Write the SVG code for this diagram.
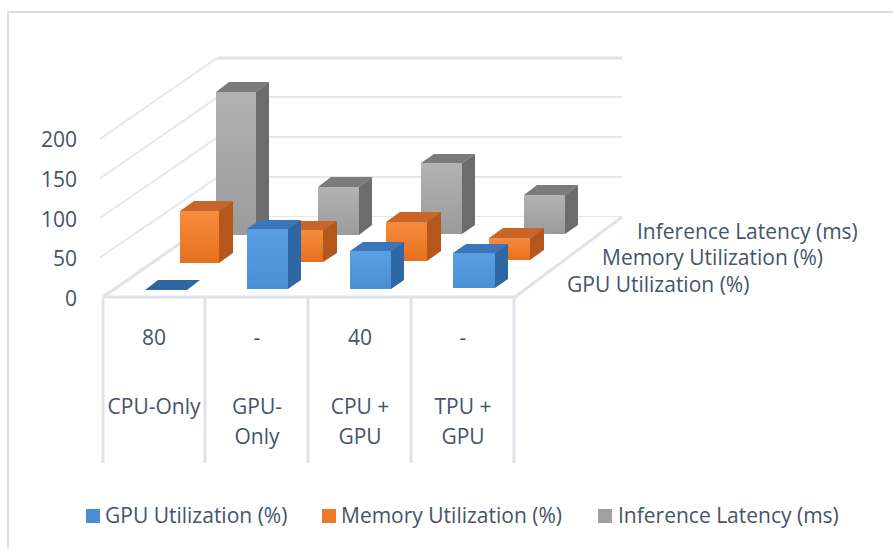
<svg xmlns="http://www.w3.org/2000/svg" width="893" height="549" viewBox="0 0 893 549">
  <style>
    text { font-family: "Open Sans", "Liberation Sans", sans-serif; font-size: 21px; fill: #44546a; }
    .grid { fill: none; stroke: #e4e7eb; stroke-width: 2; }
    .edge { fill: none; stroke: #dfe3e9; stroke-width: 3; }
    .frame { fill: none; stroke: #d9dee5; stroke-width: 2; }
    .mid { text-anchor: middle; }
    .end { text-anchor: end; }
    .bTop { fill: #3a76b8; } .bSide { fill: #2e67a3; } .bFront { fill: url(#gBlue); }
    .oTop { fill: #c8652a; } .oSide { fill: #b5561c; } .oFront { fill: url(#gOrange); }
    .gTop { fill: #7b7b7b; } .gSide { fill: #6c6c6c; } .gFront { fill: url(#gGray); }
  </style>
  <defs>
    <linearGradient id="gBlue" x1="0" y1="0" x2="0" y2="1">
      <stop offset="0" stop-color="#5a9fe2"/>
      <stop offset="1" stop-color="#4a8ed4"/>
    </linearGradient>
    <linearGradient id="gOrange" x1="0" y1="0" x2="0" y2="1">
      <stop offset="0" stop-color="#f68c3e"/>
      <stop offset="1" stop-color="#e6701d"/>
    </linearGradient>
    <linearGradient id="gGray" x1="0" y1="0" x2="0" y2="1">
      <stop offset="0" stop-color="#b2b2b2"/>
      <stop offset="1" stop-color="#9b9b9b"/>
    </linearGradient>
  </defs>

  <rect width="893" height="549" fill="#ffffff"/>
  <!-- chart area border -->
  <path class="frame" d="M8,549 V12 H893"/>

  <!-- walls and floor -->
  <g id="walls">
    <path class="grid" d="M100,257.5 L218,177 H622"/>
    <path class="grid" d="M100,218 L218,137 H622"/>
    <path class="grid" d="M100,178.5 L218,97 H622"/>
    <path class="grid" d="M100,139 L214,60 Q216,58.5 219,58.5"/>
    <path class="edge" d="M218,58 H622"/>
    <path class="grid" d="M218,217 H622"/>
  </g>
  <g id="floor">
    <polygon points="103,297 515,297 622,217 218,217" fill="#ffffff"/>
    <path class="edge" d="M103,297 L218,217"/>
    <path class="edge" d="M103,297 H515 L622,217"/>
  </g>

  <!-- value axis -->
  <g id="value-axis">
    <text class="end" x="77" y="147">200</text>
    <text class="end" x="77" y="187">150</text>
    <text class="end" x="77" y="227">100</text>
    <text class="end" x="77" y="266">50</text>
    <text class="end" x="77" y="306">0</text>
  </g>

  <!-- series axis -->
  <g id="series-axis">
    <text x="637" y="239">Inference Latency (ms)</text>
    <text x="602" y="265">Memory Utilization (%)</text>
    <text x="567" y="292">GPU Utilization (%)</text>
  </g>

  <!-- back row: Inference Latency (ms) -->
  <g id="series-latency">
    <g id="lat-cpu-only">
      <rect class="gFront" x="216" y="92" width="40" height="143"/>
      <polygon class="gTop" points="216,92 256,92 269,82 229,82"/>
      <polygon class="gSide" points="256,92 269,82 269,225 256,235"/>
    </g>
    <g id="lat-gpu-only">
      <rect class="gFront" x="318" y="187" width="41" height="48"/>
      <polygon class="gTop" points="318,187 359,187 372,177 331,177"/>
      <polygon class="gSide" points="359,187 372,177 372,225 359,235"/>
    </g>
    <g id="lat-cpu-gpu">
      <rect class="gFront" x="421" y="163" width="41" height="71"/>
      <polygon class="gTop" points="421,163 462,163 475,154 434,154"/>
      <polygon class="gSide" points="462,163 475,154 475,225 462,234"/>
    </g>
    <g id="lat-tpu-gpu">
      <rect class="gFront" x="524" y="195" width="41" height="39"/>
      <polygon class="gTop" points="524,195 565,195 578,185 537,185"/>
      <polygon class="gSide" points="565,195 578,185 578,225 565,234"/>
    </g>
  </g>

  <!-- middle row: Memory Utilization (%) -->
  <g id="series-memory">
    <g id="mem-cpu-only">
      <rect class="oFront" x="180" y="211" width="39" height="52"/>
      <polygon class="oTop" points="180,211 219,211 233,201 194,201"/>
      <polygon class="oSide" points="219,211 233,201 233,253 219,263"/>
    </g>
    <g id="mem-gpu-only">
      <rect class="oFront" x="283" y="230" width="40" height="32"/>
      <polygon class="oTop" points="283,230 323,230 337,221 297,221"/>
      <polygon class="oSide" points="323,230 337,221 337,253 323,262"/>
    </g>
    <g id="mem-cpu-gpu">
      <rect class="oFront" x="386" y="222" width="41" height="39"/>
      <polygon class="oTop" points="386,222 427,222 441,212 400,212"/>
      <polygon class="oSide" points="427,222 441,212 441,251 427,261"/>
    </g>
    <g id="mem-tpu-gpu">
      <rect class="oFront" x="489" y="238" width="41" height="22"/>
      <polygon class="oTop" points="489,238 530,238 544,228 503,228"/>
      <polygon class="oSide" points="530,238 544,228 544,250 530,260"/>
    </g>
  </g>

  <!-- front row: GPU Utilization (%) -->
  <g id="series-gpu">
    <g id="gpu-cpu-only">
      <polygon class="bSide" points="145,290 187,290 200,280 158,280"/>
    </g>
    <g id="gpu-gpu-only">
      <rect class="bFront" x="247" y="229" width="41" height="60"/>
      <polygon class="bTop" points="247,229 288,229 301,220 260,220"/>
      <polygon class="bSide" points="288,229 301,220 301,280 288,289"/>
    </g>
    <g id="gpu-cpu-gpu">
      <rect class="bFront" x="350" y="251" width="41" height="38"/>
      <polygon class="bTop" points="350,251 391,251 404,242 363,242"/>
      <polygon class="bSide" points="391,251 404,242 404,280 391,289"/>
    </g>
    <g id="gpu-tpu-gpu">
      <rect class="bFront" x="453" y="253" width="42" height="35"/>
      <polygon class="bTop" points="453,253 495,253 508,244 466,244"/>
      <polygon class="bSide" points="495,253 508,244 508,279 495,288"/>
    </g>
  </g>

  <!-- data table under the floor -->
  <g id="data-table">
    <path class="edge" d="M103,297 V463 M205,297 V463 M308,297 V463 M411,297 V463 M514,297 V463"/>
    <text class="mid" x="154" y="345">80</text>
    <text class="mid" x="257" y="345">-</text>
    <text class="mid" x="360" y="345">40</text>
    <text class="mid" x="463" y="345">-</text>
    <text class="mid" x="154" y="414">CPU-Only</text>
    <text class="mid" x="257" y="414">GPU-</text>
    <text class="mid" x="257" y="444">Only</text>
    <text class="mid" x="360" y="414">CPU +</text>
    <text class="mid" x="360" y="444">GPU</text>
    <text class="mid" x="463" y="414">TPU +</text>
    <text class="mid" x="463" y="444">GPU</text>
  </g>

  <!-- legend -->
  <g id="legend">
    <rect x="86" y="509" width="14" height="14" fill="#4a8ed4"/>
    <text x="105" y="523">GPU Utilization (%)</text>
    <rect x="322" y="509" width="14" height="14" fill="#ec7a2a"/>
    <text x="341" y="523">Memory Utilization (%)</text>
    <rect x="598" y="509" width="14" height="14" fill="#a0a0a0"/>
    <text x="618" y="523">Inference Latency (ms)</text>
  </g>
</svg>
